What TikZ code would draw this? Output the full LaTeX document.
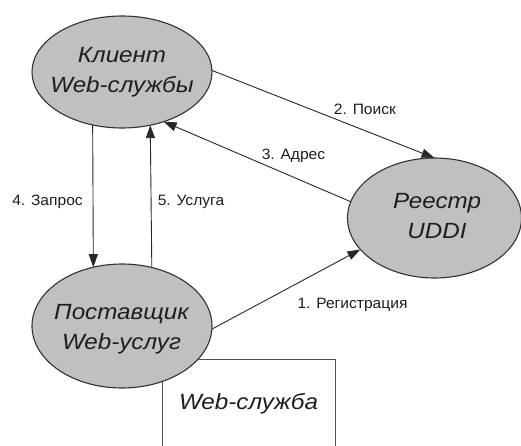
\documentclass[tikz,border=0pt]{standalone}
\usepackage{fontspec}
\setmainfont{Liberation Sans}
\newfontfamily\bigf[FakeStretch=1.1]{Liberation Sans}
\newfontfamily\smallf[FakeStretch=1.04]{Liberation Sans}
\usetikzlibrary{shapes.geometric,arrows.meta}
\definecolor{fillc}{RGB}{192,192,192}
\definecolor{edgec}{RGB}{50,50,50}
\definecolor{linec}{RGB}{40,40,40}
\definecolor{txtc}{RGB}{30,30,30}
\definecolor{boxc}{RGB}{80,80,80}
\begin{document}
\begin{tikzpicture}[x=1pt,y=1pt,
  ell/.style={ellipse, draw=edgec, fill=fillc, line width=1.1pt, inner sep=0pt, outer sep=0pt},
  etext/.style={font=\bigf\itshape\fontsize{22}{30}\selectfont, align=center, text=txtc, inner sep=0pt},
  lbl/.style={font=\smallf\fontsize{15}{17}\selectfont, text=txtc, inner sep=0pt},
  conn/.style={draw=linec, line width=0.9pt, -{Triangle[length=13pt,width=9pt]}},
  wsbox/.style={draw=boxc, line width=0.9pt, inner sep=0pt, outer sep=0pt}]
\useasboundingbox (0,0) rectangle (521,445);
\fill[white] (0,0) rectangle (521,445);
% Web service box (extends below the picture)
\node[wsbox, minimum width=173, minimum height=110] (ws) at (248.5,31) {};
\node[etext, anchor=base] (wst) at (248.5,36) {Web-служба};
% ellipses
\node[ell, minimum width=180, minimum height=112] (client) at (122,373) {};
\node[etext] (clientt) at (122,373) {Клиент\\Web-службы};
\node[ell, minimum width=174, minimum height=120] (reg) at (434.5,227) {};
\node[etext] (regt) at (437,228.5) {Реестр\\UDDI};
\node[ell, minimum width=180, minimum height=124] (prov) at (122,119) {};
\node[etext] (provt) at (121.5,116) {Поставщик\\Web-услуг};
% connectors
\draw[conn] (client.241.3) -- (prov.116.3);
\draw[conn] (prov.63.7) -- (client.298.7);
\draw[conn] (client.1) -- (reg.90);
\draw[conn] (reg.169) -- (client.310);
\draw[conn] (prov.358) -- (reg.203);
% labels
\node[lbl] (l2) at (365,335.5) {2. Поиск};
\node[lbl] (l3) at (293.5,289) {3. Адрес};
\node[lbl] (l4) at (47.5,243) {4. Запрос};
\node[lbl] (l5) at (191,243) {5. Услуга};
\node[lbl] (l1) at (352.5,140) {1. Регистрация};
\end{tikzpicture}
\end{document}
